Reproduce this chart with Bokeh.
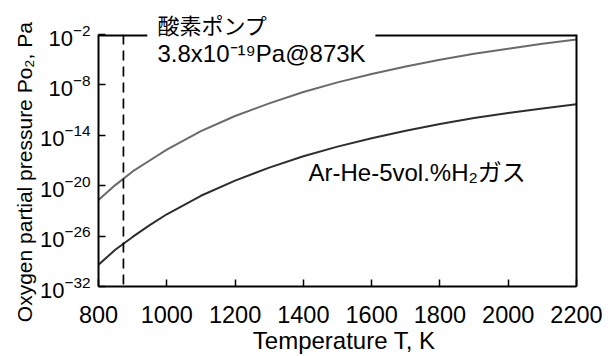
from bokeh.plotting import figure
from bokeh.models import Range1d, FixedTicker, LogAxis, Span, Label
from bokeh.embed import file_html
from bokeh.resources import INLINE

# ---- data ----
temperature_K = [800, 850, 900, 950, 1000, 1100, 1200, 1300, 1400, 1500,
                 1600, 1700, 1800, 1900, 2000, 2100, 2200]
# log10 of oxygen partial pressure (Pa)
log_po2_pump = [-21.7, -19.9, -18.3, -17.0, -15.7, -13.5, -11.7, -10.2, -8.85,
                -7.7, -6.7, -5.8, -5.0, -4.3, -3.7, -3.1, -2.6]
log_po2_gas = [-29.4, -27.6, -26.1, -24.7, -23.4, -21.2, -19.4, -17.85, -16.5,
               -15.35, -14.35, -13.45, -12.65, -11.95, -11.35, -10.8, -10.3]
x_ticks = [800, 1000, 1200, 1400, 1600, 1800, 2000, 2200]
y_tick_exponents = [-32, -26, -20, -14, -8, -2]
x_min, x_max = 800, 2200
y_min, y_max = 1e-32, 1e-2
pump_temperature = 873
pump_title = "酸素ポンプ"
pump_value = "3.8x10⁻¹⁹Pa@873K"
gas_label = "Ar-He-5vol.%H₂ガス"
x_title = "Temperature T, K"
y_title = "Oxygen partial pressure Po₂, Pa"
# where the top frame line is interrupted by the annotation (in K)
top_gap = (943, 1611)

FONT = "'Liberation Sans', 'Noto Sans CJK JP', sans-serif"
NBSP = "\u00a0"

po2_pump = [10.0 ** e for e in log_po2_pump]
po2_gas = [10.0 ** e for e in log_po2_gas]

p = figure(width=613, height=356,
           x_range=Range1d(x_min, x_max), y_range=Range1d(y_min, y_max),
           y_axis_type="log", output_backend="svg", toolbar_location=None,
           min_border_left=98, min_border_right=37, min_border_top=34,
           min_border_bottom=69)
p.grid.visible = False
p.outline_line_color = None
p.background_fill_color = "white"
p.border_fill_color = "white"

p.line(temperature_K, po2_pump, line_color="#6a6a6a", line_width=2)
p.line(temperature_K, po2_gas, line_color="#2e2e2e", line_width=2)

p.add_layout(Span(location=pump_temperature, dimension="height",
                  line_color="black", line_width=1.7, line_dash="10 6"))

# top frame line with a gap for the annotation
p.segment(x0=[x_min, top_gap[1]], y0=[y_max, y_max],
          x1=[top_gap[0], x_max], y1=[y_max, y_max],
          line_color="black", line_width=4)

# axes
xa = p.xaxis[0]
xa.ticker = FixedTicker(ticks=x_ticks)
ya = p.yaxis[0]
ya.ticker = FixedTicker(ticks=[10.0 ** e for e in y_tick_exponents])
for ax in (xa, ya):
    ax.axis_line_width = 2
    ax.axis_line_color = "black"
    ax.major_tick_in = 7
    ax.major_tick_out = 0
    ax.major_tick_line_width = 1.5
    ax.minor_tick_line_color = None
    ax.major_label_text_font = FONT
    ax.major_label_text_color = "black"
    ax.axis_label_text_font = FONT
    ax.axis_label_text_font_style = "normal"
    ax.axis_label_text_color = "black"
xa.major_label_text_font_size = "23.5px"
xa.major_label_standoff = 19
xa.axis_label = NBSP * 2 + x_title
xa.axis_label_text_font_size = "24px"
xa.axis_label_standoff = 1
ya.major_label_text_font_size = "22px"
ya.major_label_standoff = 8
ya.axis_label = y_title + NBSP * 4
ya.axis_label_text_font_size = "21px"
ya.axis_label_standoff = 1

right = LogAxis(ticker=FixedTicker(ticks=[]), axis_line_width=2,
                axis_line_color="black", major_tick_line_color=None,
                minor_tick_line_color=None, major_label_text_font_size="0px")
p.add_layout(right, "right")

# annotation above the frame (title) and inside it
p.title.text = pump_title
p.title.align = "left"
p.title.offset = 59
p.title.standoff = -8
p.title.text_font = FONT
p.title.text_font_size = "22px"
p.title.text_font_style = "normal"
p.title.text_color = "black"

p.add_layout(Label(x=59, y=233, x_units="screen", y_units="screen",
                   text=pump_value, text_font=FONT, text_font_size="24px",
                   text_align="left", text_baseline="middle", text_color="black"))
p.add_layout(Label(x=210, y=114, x_units="screen", y_units="screen",
                   text=gas_label, text_font=FONT, text_font_size="24px",
                   text_align="left", text_baseline="middle", text_color="black"))

open("out.html", "w").write(file_html(p, INLINE))
